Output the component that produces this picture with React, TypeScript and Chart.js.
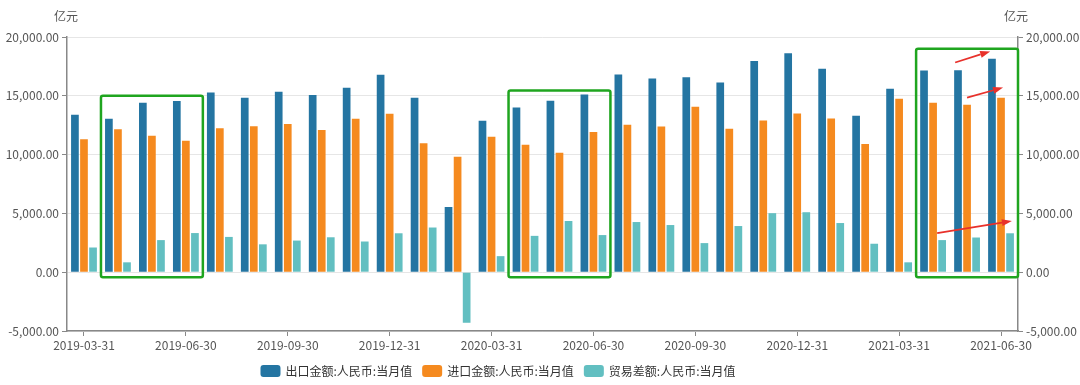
import React, { useEffect, useRef } from "react";
import { Chart, registerables } from "chart.js";

Chart.register(...registerables);

const categories = [
  "2019-03-31", "2019-04-30", "2019-05-31", "2019-06-30", "2019-07-31", "2019-08-31",
  "2019-09-30", "2019-10-31", "2019-11-30", "2019-12-31", "2020-01-31", "2020-02-29",
  "2020-03-31", "2020-04-30", "2020-05-31", "2020-06-30", "2020-07-31", "2020-08-31",
  "2020-09-30", "2020-10-31", "2020-11-30", "2020-12-31", "2021-01-31", "2021-02-28",
  "2021-03-31", "2021-04-30", "2021-05-31", "2021-06-30",
];

const exportsRmb = [
  13396, 13055, 14400, 14560, 15273, 14830, 15340, 15060, 15680, 16790, 14830, 5546,
  12884, 14010, 14570, 15102, 16809, 16467, 16570, 16140, 17960, 18620, 17300, 13311,
  15600, 17150, 17165, 18150,
];

const importsRmb = [
  11300, 12150, 11604, 11177, 12250, 12420, 12610, 12100, 13055, 13470, 10970, 9812,
  11519, 10836, 10154, 11930, 12530, 12390, 14078, 12201, 12900, 13500, 13070, 10900,
  14745, 14400, 14230, 14830,
];

const balanceRmb = [
  2100, 840, 2730, 3328, 3000, 2370, 2690, 2970, 2610, 3310, 3800, -4300,
  1365, 3090, 4352, 3157, 4266, 4010, 2474, 3925, 5020, 5100, 4181, 2420,
  840, 2730, 2950, 3310,
];

const seriesNames = ["出口金额:人民币:当月值", "进口金额:人民币:当月值", "贸易差额:人民币:当月值"];
const seriesColors = ["#2475a2", "#f58a1f", "#62bfc1"];

const yTicks = [-5000, 0, 5000, 10000, 15000, 20000];
const unitLabel = "亿元";

// highlight boxes: [fromIndex, toIndex, topValue, bottomValue]
const boxStarts = [0.5, 12.5, 24.5];
const boxEnds = [3.5, 15.5, 27.5];
const boxTops = [15000, 15450, 19000];
const boxBottom = -420;

// arrows: start index/value -> end index/value
const arrowX0 = [25.65, 26.0, 25.12];
const arrowY0 = [17833, 14846, 3328];
const arrowX1 = [26.68, 27.06, 27.32];
const arrowY1 = [18771, 15700, 4352];

const FONT = "'Noto Sans CJK SC', 'Noto Sans', sans-serif";

const fmt = (v: number) =>
  v.toLocaleString("en-US", { minimumFractionDigits: 2, maximumFractionDigits: 2 });

export default function App() {
  const ref = useRef<HTMLCanvasElement | null>(null);

  useEffect(() => {
    if (!ref.current) return;
    const annot = {
      id: "annot",
      afterDraw(chart: any) {
        const { ctx, scales, chartArea } = chart;
        const x = scales.x;
        const y = scales.y;
        ctx.save();
        // unit labels
        ctx.font = `12px ${FONT}`;
        ctx.fillStyle = "#555";
        ctx.textAlign = "center";
        ctx.textBaseline = "middle";
        ctx.fillText(unitLabel, chartArea.left - 1, chartArea.top - 21);
        ctx.fillText(unitLabel, chartArea.right - 2, chartArea.top - 21);
        // boxes
        ctx.strokeStyle = "#1fa51f";
        ctx.lineWidth = 2.5;
        for (let i = 0; i < boxStarts.length; i++) {
          const l = x.getPixelForValue(boxStarts[i]);
          const r = x.getPixelForValue(boxEnds[i]);
          const t = y.getPixelForValue(boxTops[i]);
          const b = y.getPixelForValue(boxBottom);
          ctx.beginPath();
          if (ctx.roundRect) ctx.roundRect(l, t, r - l, b - t, 2);
          else ctx.rect(l, t, r - l, b - t);
          ctx.stroke();
        }
        // arrows
        ctx.strokeStyle = "#e8312b";
        ctx.fillStyle = "#e8312b";
        for (let i = 0; i < arrowX0.length; i++) {
          const x0 = x.getPixelForValue(arrowX0[i]);
          const y0 = y.getPixelForValue(arrowY0[i]);
          const x1 = x.getPixelForValue(arrowX1[i]);
          const y1 = y.getPixelForValue(arrowY1[i]);
          const ang = Math.atan2(y1 - y0, x1 - x0);
          const hl = 10;
          const hw = 3.5;
          const bx = x1 - hl * Math.cos(ang);
          const by = y1 - hl * Math.sin(ang);
          ctx.lineWidth = 1.8;
          ctx.beginPath();
          ctx.moveTo(x0, y0);
          ctx.lineTo(bx, by);
          ctx.stroke();
          ctx.beginPath();
          ctx.moveTo(x1, y1);
          ctx.lineTo(bx + hw * Math.sin(ang), by - hw * Math.cos(ang));
          ctx.lineTo(bx - hw * Math.sin(ang), by + hw * Math.cos(ang));
          ctx.closePath();
          ctx.fill();
        }
        // legend
        ctx.font = `12px ${FONT}`;
        ctx.textAlign = "left";
        ctx.textBaseline = "middle";
        const boxW = 20;
        const boxH = 12;
        const gap = 5;
        const itemGap = 10;
        const widths = seriesNames.map((n) => boxW + gap + ctx.measureText(n).width);
        const total = widths.reduce((a, b) => a + b, 0) + itemGap * (widths.length - 1);
        let lx = 498 - total / 2;
        const ly = 371;
        for (let i = 0; i < seriesNames.length; i++) {
          ctx.fillStyle = seriesColors[i];
          ctx.beginPath();
          if (ctx.roundRect) ctx.roundRect(lx, ly - boxH / 2, boxW, boxH, 3);
          else ctx.rect(lx, ly - boxH / 2, boxW, boxH);
          ctx.fill();
          ctx.fillStyle = "#333";
          ctx.fillText(seriesNames[i], lx + boxW + gap, ly);
          lx += widths[i] + itemGap;
        }
        ctx.restore();
      },
    };

    const chart = new Chart(ref.current, {
      type: "bar",
      data: {
        labels: categories,
        datasets: [exportsRmb, importsRmb, balanceRmb].map((d, i) => ({
          label: seriesNames[i],
          data: d,
          backgroundColor: seriesColors[i],
          borderWidth: 0,
          categoryPercentage: 0.8,
          barPercentage: 0.85,
          yAxisID: "y",
        })),
      },
      options: {
        animation: false,
        responsive: false,
        maintainAspectRatio: false,
        layout: { padding: { top: 37, left: 0, right: 0, bottom: 30 } },
        plugins: {
          tooltip: { enabled: false },
          legend: { display: false },
        },
        scales: {
          x: {
            offset: true,
            grid: {
              display: true,
              offset: false,
              drawOnChartArea: false,
              drawTicks: true,
              tickLength: 5,
              color: (c: any) => (c.index % 3 === 0 ? "#888" : "rgba(0,0,0,0)"),
            },
            border: { display: true, color: "#888", width: 1.5 },
            ticks: {
              autoSkip: false,
              maxRotation: 0,
              color: "#555",
              padding: 2,
              font: { size: 12, family: FONT },
              callback: (_v: any, i: number) => (i % 3 === 0 ? categories[i] : ""),
            },
            afterFit: (s: any) => {
              s.height = 24;
            },
          },
          y: {
            position: "left",
            min: -5000,
            max: 20000,
            afterBuildTicks: (s: any) => {
              s.ticks = yTicks.map((v) => ({ value: v }));
            },
            grid: { color: "#e6e6e6", tickLength: 5, tickColor: "#888" },
            border: { display: true, color: "#888", width: 1.5 },
            ticks: {
              color: "#555",
              padding: 3,
              font: { size: 12, family: FONT },
              callback: (v: any) => fmt(Number(v)),
            },
            afterFit: (s: any) => {
              s.width = 67;
            },
          },
          y1: {
            position: "right",
            min: -5000,
            max: 20000,
            afterBuildTicks: (s: any) => {
              s.ticks = yTicks.map((v) => ({ value: v }));
            },
            grid: { drawOnChartArea: false, tickLength: 5, color: "#888" },
            border: { display: true, color: "#888", width: 1.5 },
            ticks: {
              color: "#555",
              padding: 3,
              font: { size: 12, family: FONT },
              callback: (v: any) => fmt(Number(v)),
            },
            afterFit: (s: any) => {
              s.width = 62;
            },
          },
        },
      },
      plugins: [annot],
    } as any);
    return () => chart.destroy();
  }, []);

  return (
    <div style={{ position: "fixed", left: 0, top: 0, width: 1080, height: 385, background: "#fff" }}>
      <canvas ref={ref} width={1080} height={385} style={{ width: 1080, height: 385 }} />
    </div>
  );
}
